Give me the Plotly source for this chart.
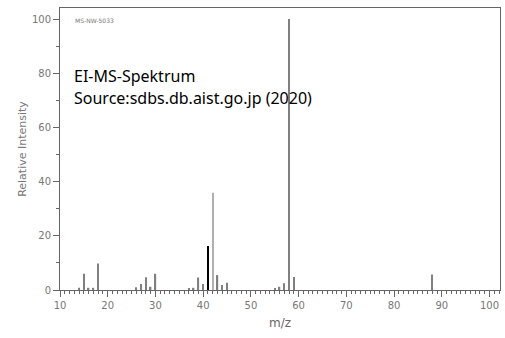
import plotly.graph_objects as go

mz = [14, 15, 16, 17, 18, 26, 27, 28, 29, 30, 37, 38, 39, 40, 41, 42, 43, 44, 45, 55, 56, 57, 58, 59, 88]
intensity = [0.8, 6, 0.8, 0.8, 9.8, 1, 2.2, 4.7, 1.2, 6, 0.5, 0.8, 4.6, 2.2, 16.2, 35.9, 5.5, 1.8, 2.7, 0.5, 1.2, 2.5, 100, 4.8, 5.7]
bar_colors = ["#000000" if m == 41 else ("#b0b0b0" if m == 42 else "#808080") for m in mz]

x_ticks = [10, 20, 30, 40, 50, 60, 70, 80, 90, 100]
y_ticks = [0, 20, 40, 60, 80, 100]

fig = go.Figure()
fig.add_trace(go.Bar(x=mz, y=intensity, width=0.3, hoverinfo="skip",
                     marker=dict(color=bar_colors, line=dict(width=0))))

axis_font = dict(family="DejaVu Sans", size=10, color="#777777")

fig.update_layout(
    width=505, height=338,
    margin=dict(l=60, r=5, t=8, b=48),
    paper_bgcolor="white", plot_bgcolor="white",
    showlegend=False,
    xaxis=dict(range=[10, 102.2], tickvals=x_ticks, ticks="outside", ticklen=6,
               tickcolor="#666666", tickwidth=1, automargin=False,
               minor=dict(dtick=1, tick0=10, ticks="outside", ticklen=3, tickcolor="#666666"),
               showline=True, linecolor="#666666", linewidth=1, mirror=True,
               showgrid=False, zeroline=False, tickfont=axis_font,
               title=dict(text="m/z", font=dict(family="DejaVu Sans", size=12, color="#666666"), standoff=8)),
    yaxis=dict(range=[0, 104.1], tickvals=y_ticks, ticks="outside", ticklen=6,
               tickcolor="#666666", tickwidth=1, automargin=False,
               minor=dict(dtick=10, tick0=0, ticks="outside", ticklen=3, tickcolor="#666666"),
               showline=True, linecolor="#666666", linewidth=1, mirror=True,
               showgrid=False, zeroline=False, tickfont=axis_font,
               title=dict(text="Relative Intensity", font=dict(family="DejaVu Sans", size=11, color="#777777"), standoff=3)),
    annotations=[
        dict(text="MS-NW-5033", x=0.03, y=0.957, xref="paper", yref="paper",
             xanchor="left", yanchor="middle", showarrow=False,
             font=dict(family="DejaVu Sans", size=6, color="#777777")),
        dict(text="EI-MS-Spektrum", x=0.027, y=0.759, xref="paper", yref="paper",
             xanchor="left", yanchor="middle", showarrow=False,
             font=dict(family="Noto Sans", size=16, color="#000000")),
        dict(text="Source:sdbs.db.aist.go.jp (2020)", x=0.027, y=0.681, xref="paper", yref="paper",
             xanchor="left", yanchor="middle", showarrow=False,
             font=dict(family="Noto Sans", size=16, color="#000000")),
    ],
)

fig.write_html("out.html", config={"displayModeBar": False},
               post_script="document.body.style.margin='0px';document.body.style.overflow='hidden';")
